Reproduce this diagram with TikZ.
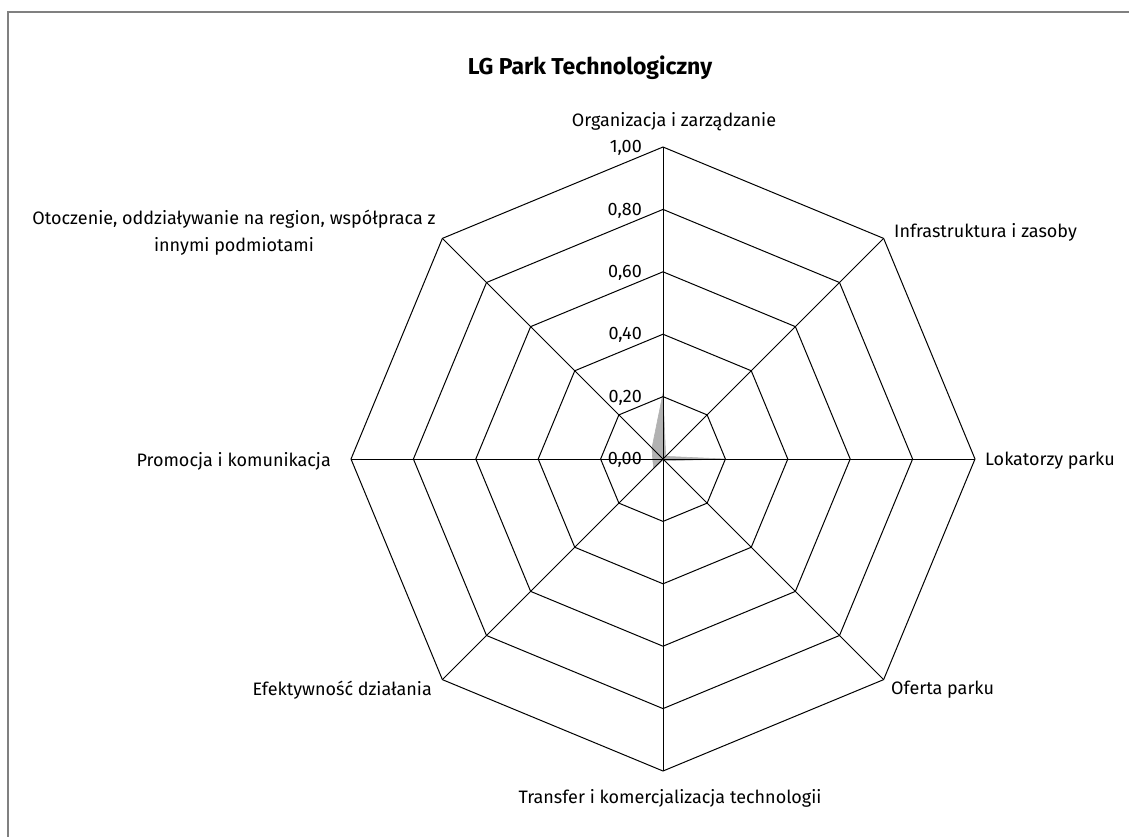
\documentclass[tikz,border=0pt]{standalone}
\usepackage{fontspec}
\setmainfont{Fira Sans}
\usetikzlibrary{calc}
\begin{document}
\begin{tikzpicture}[x=1pt,y=-1pt,
  ring/.style={draw=black,line width=1pt,line join=miter},
  spoke/.style={draw=black,line width=1pt},
  axlabel/.style={font=\fontsize{18}{27}\selectfont,inner sep=0pt},
  ticklabel/.style={font=\fontsize{18}{22}\selectfont,inner sep=0pt,anchor=east},
  series/.style={fill=black!30,draw=black!30,line width=0.6pt,line join=miter},
  frame/.style={draw=black!50,line width=2pt}]
\useasboundingbox (0,0) rectangle (1129,836);
\draw[frame] (8,850) -- (8,12) -- (1140,12);
\coordinate (C) at (663,459);
\def\R{312}
% data series
\path[series] ($(C)+(-90:0.21*\R)$) -- ($(C)+(-45:0.012*\R)$) -- ($(C)+(0:0.2*\R)$) -- ($(C)+(45:0.008*\R)$) -- ($(C)+(90:0.004*\R)$) -- ($(C)+(135:0.042*\R)$) -- ($(C)+(180:0.033*\R)$) -- ($(C)+(225:0.05*\R)$) -- cycle;
% rings
\foreach \i in {1,...,5}{
  \pgfmathsetmacro{\r}{\R*\i/5}
  \draw[ring] ($(C)+(-90:\r)$) \foreach \k in {1,...,7}{ -- ($(C)+(45*\k-90:\r)$) } -- cycle;
}
% spokes
\foreach \k in {0,...,7}{
  \coordinate (v\k) at ($(C)+(45*\k-90:\R)$);
  \draw[spoke] (C) -- (v\k);
}
% tick labels
\foreach \i/\t in {0/{0,00},1/{0,20},2/{0,40},3/{0,60},4/{0,80},5/{1,00}}{
  \node[ticklabel] (t\i) at (642,{459-\R*\i/5+1}) {\t};
}
% title
\node[font=\fontsize{23}{27}\selectfont\bfseries,inner sep=0pt] (title) at (590,68) {LG Park Technologiczny};
% axis labels
\node[axlabel] (l0) at (674,122) {Organizacja i zarządzanie};
\node[axlabel,anchor=west] (l1) at (894,232) {Infrastruktura i zasoby};
\node[axlabel,anchor=west] (l2) at (985,461) {Lokatorzy parku};
\node[axlabel,anchor=west] (l3) at (891,690) {Oferta parku};
\node[axlabel] (l4) at (670,798) {Transfer i komercjalizacja technologii};
\node[axlabel,anchor=east] (l5) at (432,690) {Efektywność działania};
\node[axlabel,anchor=east] (l6) at (331,461) {Promocja i komunikacja};
\node[axlabel,align=center] (l7) at (234,233) {Otoczenie, oddziaływanie na region, współpraca z\\innymi podmiotami};
\end{tikzpicture}
\end{document}
